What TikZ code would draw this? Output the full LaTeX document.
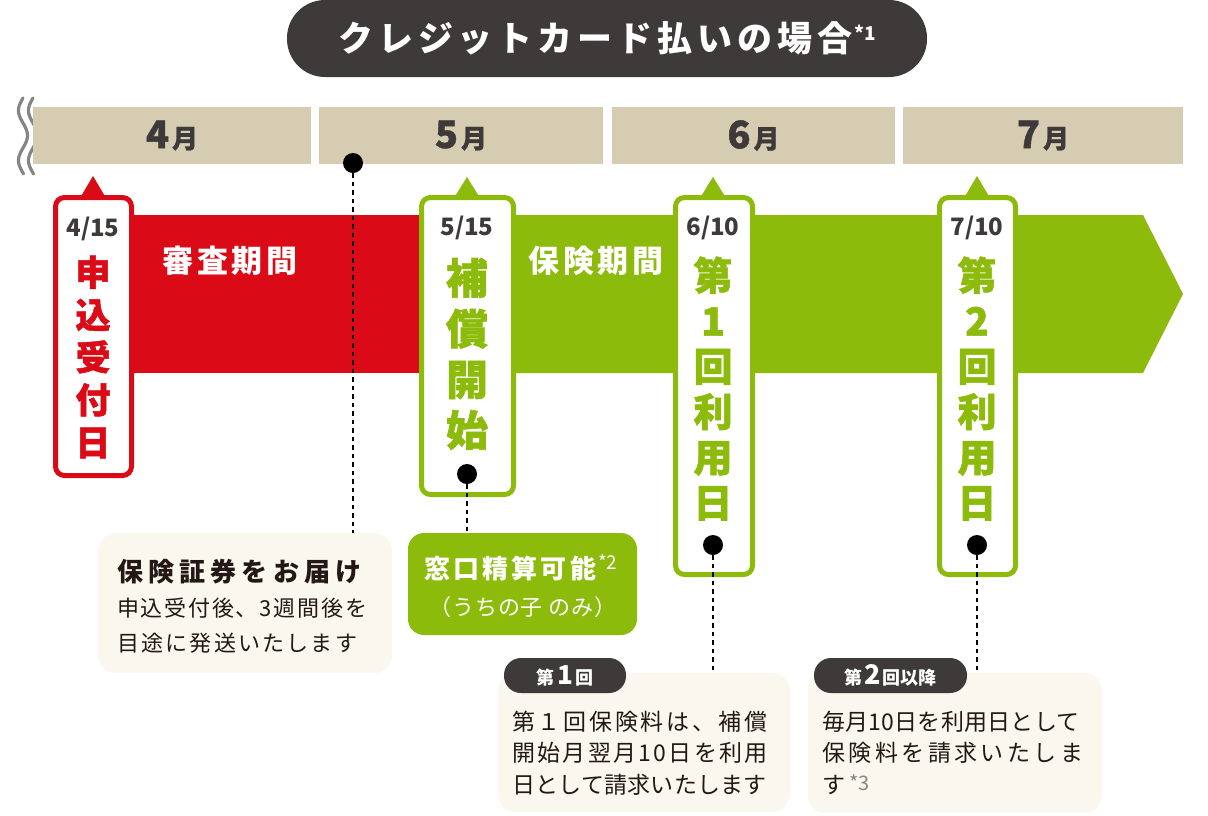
\documentclass[tikz,border=0pt]{standalone}
\usepackage{fontspec}
\setmainfont{Noto Sans CJK JP}
\definecolor{cred}{HTML}{DA0A16}
\definecolor{cgreen}{HTML}{8CBB0B}
\definecolor{cbeige}{HTML}{D5CCB2}
\definecolor{cdark}{HTML}{3E3A39}
\definecolor{ccream}{HTML}{FAF7EE}
\definecolor{ctext}{HTML}{231815}
\definecolor{cwave}{HTML}{858585}
\newcommand{\fs}[1]{\fontsize{#1}{#1}\selectfont}
\newcommand{\ls}[1]{\addfontfeature{LetterSpace=#1}}
\newcommand{\heavy}{\bfseries\addfontfeature{FakeBold=1.4}}
\begin{document}
\begin{tikzpicture}[x=1pt,y=-1pt,
  monthbar/.style={fill=cbeige, inner sep=0pt, text=cdark, font=\bfseries\addfontfeature{FakeBold=1}},
  dbox/.style={draw=#1, line width=5pt, fill=white, rounded corners=9pt, inner sep=0pt},
  datelbl/.style={text=cdark, font=\fs{24}\bfseries, inner sep=0pt},
  vstack/.style={align=center, inner sep=0pt, text=#1},
  dot/.style={circle, fill=black, minimum size=20pt, inner sep=0pt},
  conn/.style={black, line width=1.3pt, dash pattern=on 4.5pt off 4pt},
  notebox/.style={fill=ccream, rounded corners=18pt, inner sep=0pt},
  pill/.style={fill=cdark, rounded corners=17pt, inner sep=0pt, text=white},
  bodytxt/.style={anchor=west, inner sep=0pt, text=ctext},
  bandlbl/.style={text=white, font=\fs{31}\bfseries\ls{12}, inner sep=0pt}
]
\useasboundingbox (0,0) rectangle (1208,815);

% title
\node[fill=cdark, rounded corners=38pt, minimum width=640pt, minimum height=77pt, inner sep=0pt, text=white] (title) at (607,38.5)
  {{\fs{35}\bfseries\ls{14}クレジットカード払いの場合}\hspace{2pt}\raisebox{11pt}{\fs{19}\bfseries *1}};

% wavy break marks
\foreach \xo in {23,33}{
  \draw[cwave, line width=3.2pt, line cap=round] plot[domain=98:174, samples=60, smooth] ({\xo-4.5*sin((\x-98)*7.2)}, \x);
}

% month bars
\node[monthbar, minimum width=278pt, minimum height=57pt] (m4) at (172,135.5) {\fs{38}4\hspace{3pt}\fs{26}月};
\node[monthbar, minimum width=284pt, minimum height=57pt] (m5) at (461,135.5) {\fs{38}5\hspace{3pt}\fs{26}月};
\node[monthbar, minimum width=283pt, minimum height=57pt] (m6) at (753.5,135.5) {\fs{38}6\hspace{3pt}\fs{26}月};
\node[monthbar, minimum width=280pt, minimum height=57pt] (m7) at (1043,135.5) {\fs{38}7\hspace{3pt}\fs{26}月};

% bands
\fill[cred] (100,215) rectangle (430,373);
\fill[cgreen] (430,215) -- (1143,215) -- (1183,294) -- (1143,373) -- (430,373) -- cycle;
\node[bandlbl] (review) at (230,261) {審査期間};
\node[bandlbl] (cover) at (596,261) {保険期間};

% pointers
\fill[cred] (93,176) -- (106,198) -- (80,198) -- cycle;
\fill[cgreen] (467,177) -- (480,198) -- (454,198) -- cycle;
\fill[cgreen] (713,177) -- (726,198) -- (700,198) -- cycle;
\fill[cgreen] (977,176) -- (990,198) -- (964,198) -- cycle;

% date boxes
\node[dbox=cred, minimum width=76pt, minimum height=278pt] (b415) at (93.5,336.5) {};
\node[dbox=cgreen, minimum width=92pt, minimum height=297pt] (b515) at (467.5,346) {};
\node[dbox=cgreen, minimum width=77pt, minimum height=377pt] (b610) at (714,386) {};
\node[dbox=cgreen, minimum width=76pt, minimum height=377pt] (b710) at (977.5,386) {};

\node[datelbl] (d415) at (93,229) {4/15};
\node[datelbl] (d515) at (467,228) {5/15};
\node[datelbl] (d610) at (713,228) {6/10};
\node[datelbl] (d710) at (977,228) {7/10};

\node[vstack=cred, font=\fontsize{35}{42.5}\selectfont\heavy] (t415) at (93,357) {申\\込\\受\\付\\日};
\node[vstack=cgreen, font=\fontsize{42}{50.7}\selectfont\heavy] (t515) at (467,354) {補\\償\\開\\始};
\node[vstack=cgreen, font=\fontsize{39}{45.4}\selectfont\heavy] (t610) at (713,388.5) {第\\1\\回\\利\\用\\日};
\node[vstack=cgreen, font=\fontsize{39}{45.4}\selectfont\heavy] (t710) at (977,388.5) {第\\2\\回\\利\\用\\日};

% dots
\node[dot] (p1) at (353,163) {};
\node[dot] (p2) at (467,474) {};
\node[dot] (p3) at (713,545) {};
\node[dot] (p4) at (977,545) {};

% note boxes
\node[notebox, minimum width=294pt, minimum height=140pt] (n1) at (245,603) {};
\node[fill=cgreen, rounded corners=16pt, minimum width=229pt, minimum height=102pt, inner sep=0pt] (n2) at (522.5,584) {};
\node[notebox, minimum width=292pt, minimum height=139pt] (n3) at (644,742.5) {};
\node[notebox, minimum width=294pt, minimum height=140pt] (n4) at (955,743) {};

% connectors
\draw[conn] (p1) -- (p1 |- n1.north);
\draw[conn] (p2) -- (p2 |- n2.north);
\draw[conn] (p3) -- (p3 |- n3.north);
\draw[conn] (p4) -- (p4 |- n4.north);

% note 1 text
\node[bodytxt, font=\fs{26}\bfseries\ls{20}] (n1a) at (117,572) {保険証券をお届け};
\node[bodytxt, font=\fs{22}\ls{8}] (n1b) at (117,608) {申込受付後、3週間後を};
\node[bodytxt, font=\fs{22}\ls{10}] (n1c) at (117,643) {目途に発送いたします};

% note 2 text
\node[text=white, inner sep=0pt] (n2a) at (521,568) {{\fs{26}\bfseries\ls{12}窓口精算可能}\hspace{2pt}\raisebox{9pt}{\fs{19}*2}};
\node[text=white, inner sep=0pt, font=\fs{22}\ls{4}] (n2b) at (523,607) {（うちの子 のみ）};

% pills
\node[pill, minimum width=122pt, minimum height=35pt] (q1) at (565,675.5) {\bfseries\fs{18}第\hspace{3pt}\fs{26}1\hspace{3pt}\fs{18}回};
\node[pill, minimum width=153pt, minimum height=35pt] (q2) at (890.5,675.5) {\bfseries\fs{18}第\hspace{2pt}\fs{27}2\hspace{2pt}\fs{18}回以降};

% note 3 text
\node[bodytxt, font=\fs{23}\ls{12}] (n3a) at (512,722) {第１回保険料は、補償};
\node[bodytxt, font=\fs{23}\ls{10}] (n3b) at (512,753) {開始月翌月10日を利用};
\node[bodytxt, font=\fs{23}\ls{1}] (n3c) at (512,785) {日として請求いたします};

% note 4 text
\node[bodytxt, font=\fs{23}\ls{1}] (n4a) at (822,722) {毎月10日を利用日として};
\node[bodytxt, font=\fs{23}\ls{15}] (n4b) at (822,753) {保険料を請求いたしま};
\node[bodytxt, font=\fs{23}] (n4c) at (822,785) {す\hspace{4pt}\raisebox{3pt}{\textcolor{cwave}{\fs{20}*3}}};
\end{tikzpicture}
\end{document}
